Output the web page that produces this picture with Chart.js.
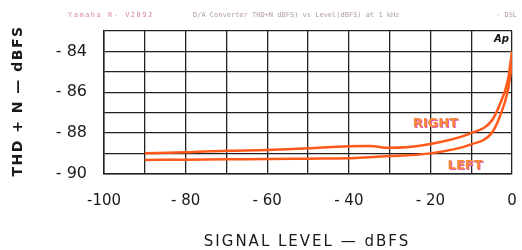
<!DOCTYPE html>
<html><head><meta charset="utf-8">
<script src="https://cdn.jsdelivr.net/npm/chart.js@4/dist/chart.umd.min.js"></script>
<style>html,body{margin:0;padding:0;background:#fff}#wrap{width:522px;height:250px}</style>
</head><body><div id="wrap"><canvas id="c" width="522" height="250"></canvas></div>
<script>
const levels = [-90, -80, -70, -60, -50, -40, -35, -30, -20, -10, -5, -3, -1, 0];
const rightThd = [-88.99, -88.94, -88.86, -88.83, -88.74, -88.64, -88.63, -88.72, -88.53, -88.0, -87.4, -86.6, -85.4, -84.0];
const leftThd  = [-89.31, -89.30, -89.28, -89.27, -89.25, -89.23, -89.18, -89.12, -88.99, -88.55, -88.0, -87.2, -85.9, -84.6];
const xTickLabels = {"-100": "-100", "-80": "- 80", "-60": "- 60", "-40": "- 40", "-20": "- 20", "0": "0"};
const yTickLabels = {"-90": "- 90", "-88": "- 88", "-86": "- 86", "-84": "- 84"};
const headerTexts = ["Yamaha R- V2092", "D/A Converter THD+N dBFS) vs Level(dBFS) at 1 kHz", "- DSL"];
const axisTitles = ["SIGNAL LEVEL — dBFS", "THD + N — dBFS"];
const seriesNames = ["RIGHT", "LEFT"];

const lineColor = '#ff5a1a';
const toPts = (xs, ys) => xs.map((x, i) => ({x, y: ys[i]}));

const annot = {
  id: 'annot',
  afterDatasetsDraw(chart) {
    const ctx = chart.ctx, xs = chart.scales.x, ys = chart.scales.y;
    ctx.save();
    // header
    ctx.textBaseline = 'middle';
    ctx.textAlign = 'left';
    ctx.font = '7px "DejaVu Sans Mono", monospace';
    ctx.fillStyle = '#d88a98';
    ctx.letterSpacing = '1.5px';
    ctx.fillText(headerTexts[0], 68, 15);
    ctx.letterSpacing = '0px';
    ctx.fillStyle = '#b09aa8';
    ctx.fillText(headerTexts[1], 193, 15);
    ctx.fillText(headerTexts[2], 496, 15);
    // axis titles
    ctx.fillStyle = '#1a1a1a';
    ctx.textAlign = 'center';
    ctx.font = '15px "DejaVu Sans", sans-serif';
    ctx.letterSpacing = '2px';
    ctx.fillText(axisTitles[0], 307, 242);
    ctx.save();
    ctx.translate(18, 101);
    ctx.rotate(-Math.PI / 2);
    ctx.font = 'bold 14px "DejaVu Sans", sans-serif';
    ctx.letterSpacing = '1.5px';
    ctx.fillText(axisTitles[1], 0, 0);
    ctx.restore();
    ctx.letterSpacing = '0px';
    // Ap logo
    ctx.font = 'italic bold 10px "DejaVu Sans", sans-serif';
    ctx.fillStyle = '#111';
    ctx.textAlign = 'right';
    ctx.fillText('Ap', xs.right - 3, ys.top + 8);
    // series labels
    ctx.font = 'bold 13px "DejaVu Sans", sans-serif';
    ctx.textAlign = 'center';
    const lbl = (t, x, y) => {
      ctx.fillStyle = '#e25aa8';
      ctx.fillText(t, x + 1, y + 1);
      ctx.fillStyle = '#f58a3a';
      ctx.fillText(t, x, y);
    };
    lbl(seriesNames[0], xs.getPixelForValue(-18.8), ys.getPixelForValue(-87.55));
    lbl(seriesNames[1], xs.getPixelForValue(-11.5), ys.getPixelForValue(-89.61));
    ctx.restore();
  }
};

new Chart(document.getElementById('c'), {
  type: 'scatter',
  data: {
    datasets: [
      {label: seriesNames[0], data: toPts(levels, rightThd), showLine: true, borderColor: lineColor, borderWidth: 2.5, pointRadius: 0, cubicInterpolationMode: 'monotone'},
      {label: seriesNames[1], data: toPts(levels, leftThd), showLine: true, borderColor: lineColor, borderWidth: 2.5, pointRadius: 0, cubicInterpolationMode: 'monotone'}
    ]
  },
  options: {
    responsive: false,
    animation: false,
    devicePixelRatio: 1,
    layout: {padding: {top: 31, right: 10, left: 0, bottom: 0}},
    plugins: {legend: {display: false}, tooltip: {enabled: false}},
    scales: {
      x: {
        type: 'linear', min: -100, max: 0,
        ticks: {stepSize: 10, autoSkip: false, maxRotation: 0, padding: 18, color: '#1a1a1a',
          font: {family: '"DejaVu Sans", sans-serif', size: 15},
          callback: v => xTickLabels[String(v)] ?? ''},
        grid: {color: '#222', lineWidth: 1.3, drawTicks: false},
        border: {color: '#222', width: 1.5},
        afterFit(s) { s.height = 76; s.paddingLeft = 0; s.paddingRight = 0; }
      },
      y: {
        min: -90, max: -83,
        ticks: {stepSize: 1, autoSkip: false, padding: 17, color: '#1a1a1a',
          font: {family: '"DejaVu Sans", sans-serif', size: 16},
          callback: v => yTickLabels[String(v)] ?? ''},
        grid: {color: '#222', lineWidth: 1.3, drawTicks: false},
        border: {color: '#222', width: 1.5},
        afterFit(s) { s.width = 104; s.paddingTop = 0; s.paddingBottom = 0; }
      }
    }
  },
  plugins: [annot]
});
</script></body></html>
